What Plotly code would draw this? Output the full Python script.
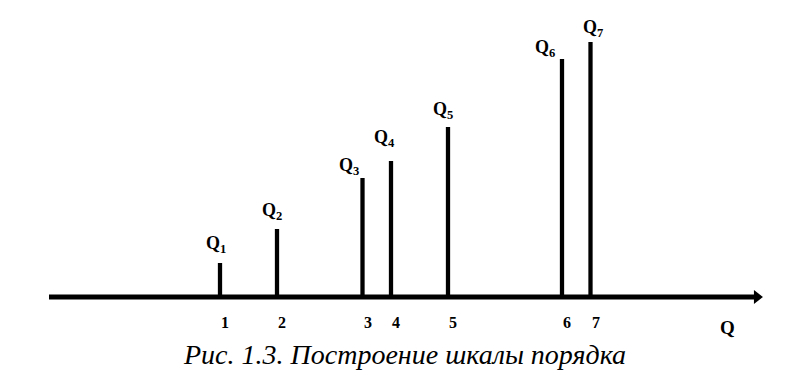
import plotly.graph_objects as go

# ---- data ----
positions = [1, 2, 3.5, 4, 5, 7, 7.5]          # positions on Q axis
values = [1, 2, 3.5, 4, 5, 7, 7.5]             # heights of the bars
bar_labels = ["Q<sub>1</sub>", "Q<sub>2</sub>", "Q<sub>3</sub>", "Q<sub>4</sub>",
              "Q<sub>5</sub>", "Q<sub>6</sub>", "Q<sub>7</sub>"]
tick_labels = ["1", "2", "3", "4", "5", "6", "7"]
axis_name = "Q"
caption = "Рис. 1.3. Построение шкалы порядка"

# ---- layout helpers (pixel geometry) ----
W, H = 794, 377
OFF = 8                         # page body margin
X0PX, XSCALE = 163.0 - OFF, 57.0
Y0PX, YSCALE = 297.0 - OFF, 34.0
xr = [-X0PX / XSCALE, (W - X0PX) / XSCALE]
yr = [-(H - Y0PX) / YSCALE, Y0PX / YSCALE]

label_dx = [-4, -5, -14, -7, -5, -17, 2]
label_dy = [10, 9, 3, 14, 8, 2, 5]

fig = go.Figure()

# axis line with arrow
fig.add_trace(go.Scatter(x=[-2.0, 10.4], y=[0, 0], mode="lines",
                         line=dict(color="black", width=5), hoverinfo="skip"))
fig.add_trace(go.Scatter(x=[10.42], y=[0], mode="markers",
                         marker=dict(symbol="triangle-right", size=12, color="black"),
                         hoverinfo="skip"))

# bars
fig.add_trace(go.Bar(x=positions, y=values, width=0.075,
                     marker=dict(color="black", line=dict(width=0)), hoverinfo="skip"))

font_b = dict(family="Liberation Serif", color="black")

for p, v, lab, dx, dy in zip(positions, values, bar_labels, label_dx, label_dy):
    fig.add_annotation(x=p, y=v, text=lab, showarrow=False, xanchor="center",
                       yanchor="bottom", xshift=dx, yshift=dy - 5,
                       font=dict(size=18, weight="bold", **font_b))

for p, t in zip(positions, tick_labels):
    fig.add_annotation(x=p, y=0, text=t, showarrow=False, xanchor="center",
                       yanchor="middle", xshift=5, yshift=-25,
                       font=dict(size=16, weight="bold", **font_b))

fig.add_annotation(x=(727 - OFF - X0PX) / XSCALE, y=0, text=axis_name, showarrow=False,
                   xanchor="center", yanchor="middle", yshift=-30,
                   font=dict(size=19, weight="bold", **font_b))

fig.add_annotation(x=(404 - OFF) / W, y=1 - (354 - OFF) / H, xref="paper", yref="paper",
                   text=caption, showarrow=False, xanchor="center", yanchor="middle",
                   font=dict(size=28, style="italic", **font_b))

fig.update_layout(width=W, height=H, margin=dict(l=0, r=0, t=0, b=0),
                  paper_bgcolor="white", plot_bgcolor="white", showlegend=False,
                  xaxis=dict(range=xr, visible=False, fixedrange=True),
                  yaxis=dict(range=yr, visible=False, fixedrange=True))

fig.write_html("out.html")
